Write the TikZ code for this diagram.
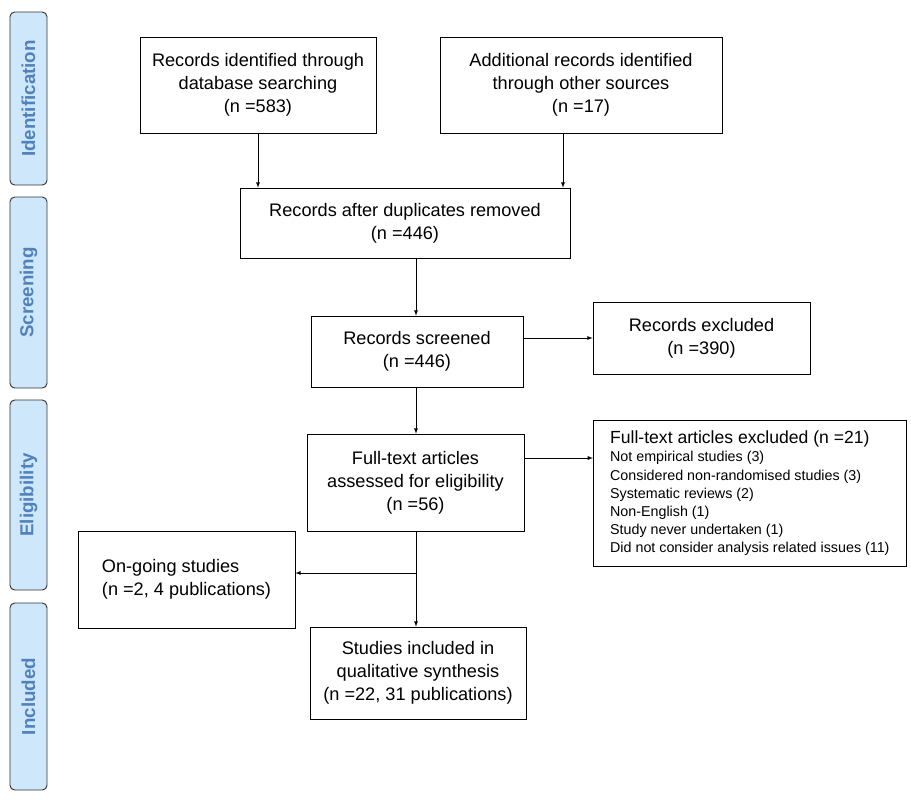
\documentclass[tikz,border=0pt]{standalone}
\usepackage{fontspec}
\setmainfont{Liberation Sans}
\usetikzlibrary{positioning}
\definecolor{phasefill}{RGB}{207,231,250}
\definecolor{phasetext}{RGB}{79,129,189}
\tikzstyle{phase}=[draw=black!80,fill=phasefill,rounded corners=4pt,line width=0.8pt,text=phasetext,font=\fontsize{16}{18}\selectfont\bfseries,rotate=90,inner sep=0pt]
\tikzstyle{box}=[draw,line width=0.6pt,align=center,inner sep=2pt,font=\fontsize{15.5}{19.5}\selectfont]
\tikzstyle{arr}=[-latex,line width=0.6pt]
\begin{document}
\begin{tikzpicture}[x=0.03cm,y=-0.03cm]
        \useasboundingbox (0,0) rectangle (911,800);
        % phases
        \node[phase,minimum width=173*0.03cm,minimum height=37*0.03cm] (id) at (28.5,98.5){Identification};
        \node[phase,minimum width=191*0.03cm,minimum height=37*0.03cm] (sc) at (28.5,292.5){Screening};
        \node[phase,minimum width=190*0.03cm,minimum height=37*0.03cm] (el) at (28.5,495){Eligibility};
        \node[phase,minimum width=187*0.03cm,minimum height=37*0.03cm] (in) at (28.5,696.5){Included};
        %
        \node[box,minimum width=236*0.03cm,minimum height=96*0.03cm] (db) at (258,85){Records identified through\\database searching\\(n =583)};
        \node[box,minimum width=282*0.03cm,minimum height=96*0.03cm] (other) at (581,85){Additional records identified\\through other sources\\(n =17)};
        \node[box,minimum width=330*0.03cm,minimum height=70*0.03cm] (dup) at (405,223){Records after duplicates removed\\(n =446)};
        \node[box,minimum width=212*0.03cm,minimum height=71*0.03cm] (scr) at (417,351.5){Records screened\\(n =446)};
        \node[box,minimum width=217*0.03cm,minimum height=72*0.03cm] (exc) at (701.5,338){Records excluded\\(n =390)};
        \node[box,minimum width=217*0.03cm,minimum height=97*0.03cm] (ft) at (415.5,482.5){Full-text articles\\assessed for eligibility\\(n =56)};
        \node[box,minimum width=313*0.03cm,minimum height=146*0.03cm,align=left,anchor=north west,inner sep=9pt,font=\fontsize{12.2}{15.5}\selectfont] (ftx) at (593,420){{\fontsize{15}{17}\selectfont Full-text articles excluded (n =21)}\\
          Not empirical studies (3)\\Considered non-randomised studies (3)\\Systematic reviews (2)\\Non-English (1)\\Study never undertaken (1)\\Did not consider analysis related issues (11)};
        \node[box,minimum width=217*0.03cm,minimum height=97*0.03cm,align=left] (ong) at (186.5,579.5){On-going studies\\(n =2, 4 publications)};
        \node[box,minimum width=216*0.03cm,minimum height=92*0.03cm] (inc) at (418,673){Studies included in\\qualitative synthesis\\(n =22, 31 publications)};
        \coordinate (split) at (416,573);
        \coordinate (otherx) at (563,0);
        \coordinate (midx) at (416,0);
        \coordinate (fty) at (0,458);
        %
        \draw[arr] (db.south) -- (db.south |- dup.north);
        \draw[arr] (otherx |- other.south) -- (otherx |- dup.north);
        \draw[arr] (midx |- dup.south) -- (midx |- scr.north);
        \draw[arr] (midx |- scr.south) -- (midx |- ft.north);
        \draw[arr] (scr.east |- exc.west) -- (exc.west);
        \draw[arr] (ft.east |- fty) -- (ftx.west |- fty);
        \draw[arr] (midx |- ft.south) -- (midx |- inc.north);
        \draw[arr] (split) -- (ong.east |- split);
\end{tikzpicture}
\end{document}
